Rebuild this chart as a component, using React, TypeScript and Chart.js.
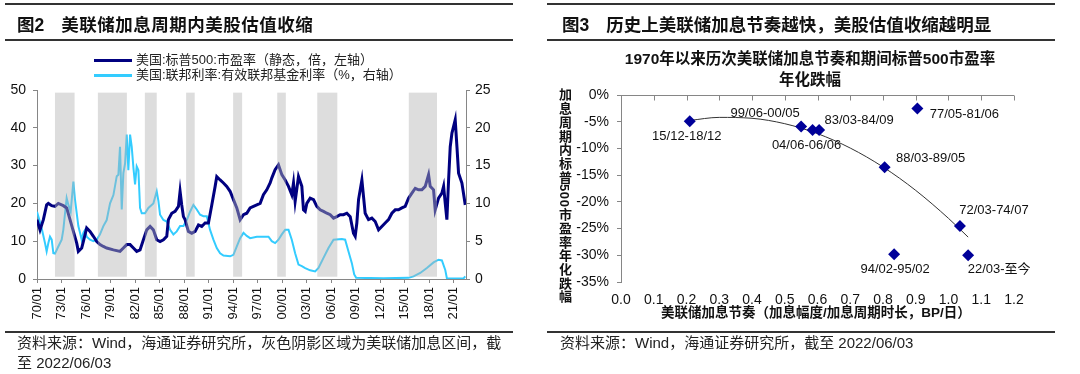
import React, { useEffect, useRef } from 'react';
import { Chart, registerables } from 'chart.js';
Chart.register(...registerables);

// ---------- Left chart (图2) data ----------
const peYears = [
  1970.0, 1970.37, 1970.78, 1971.18, 1971.39, 1971.8, 1972.2, 1972.61, 1973.22, 1973.63,
  1974.04, 1974.45, 1974.86, 1975.06, 1975.47, 1975.67, 1976.08, 1976.49, 1976.9, 1977.31,
  1977.71, 1978.12, 1978.53, 1979.35, 1980.16, 1980.57, 1980.98, 1981.39, 1981.8, 1982.2,
  1982.61, 1983.02, 1983.43, 1983.84, 1984.24, 1984.65, 1985.06, 1985.47, 1985.88, 1986.08,
  1986.49, 1986.9, 1987.31, 1987.51, 1987.71, 1987.92, 1988.12, 1988.53, 1988.94, 1989.35,
  1989.76, 1990.16, 1990.57, 1990.98, 1991.39, 1991.8, 1992.0, 1992.41, 1992.82, 1993.22,
  1993.63, 1994.04, 1994.45, 1994.86, 1995.27, 1995.67, 1996.08, 1996.49, 1996.9, 1997.31,
  1997.71, 1998.12, 1998.53, 1998.73, 1999.14, 1999.55, 1999.96, 2000.37, 2000.78, 2001.18,
  2001.39, 2001.59, 2002.0, 2002.41, 2002.61, 2002.82, 2003.02, 2003.43, 2003.84, 2004.24,
  2004.65, 2005.06, 2005.47, 2005.88, 2006.29, 2006.69, 2007.1, 2007.51, 2007.92, 2008.33,
  2008.73, 2008.94, 2009.14, 2009.35, 2009.76, 2009.96, 2010.16, 2010.57, 2010.98, 2011.39,
  2011.8, 2012.2, 2012.61, 2013.02, 2013.43, 2013.84, 2014.24, 2014.65, 2015.06, 2015.47,
  2015.88, 2016.29, 2016.69, 2017.1, 2017.51, 2017.92, 2018.12, 2018.53, 2018.73, 2019.14,
  2019.55, 2019.76, 2019.96, 2020.16, 2020.37, 2020.57, 2020.78, 2021.18, 2021.39, 2021.59,
  2022.0, 2022.41,
];
const peValues = [
  15.7, 13.0, 15.7, 19.6, 20.0, 19.4, 19.2, 20.0, 19.4, 18.8,
  15.7, 12.6, 9.5, 7.3, 8.2, 9.9, 13.5, 12.6, 11.3, 9.9,
  9.1, 8.6, 8.2, 7.7, 7.3, 8.2, 9.1, 9.1, 8.2, 7.3,
  7.7, 10.4, 13.0, 13.9, 13.0, 10.4, 9.9, 10.4, 11.3, 15.7,
  17.4, 17.9, 19.2, 23.2, 19.6, 16.5, 15.7, 12.6, 12.1, 12.6,
  14.3, 13.9, 14.8, 14.8, 19.6, 24.5, 27.1, 26.2, 25.4, 24.5,
  23.2, 21.0, 18.8, 15.7, 17.0, 17.4, 18.8, 19.2, 19.6, 20.0,
  22.3, 23.6, 25.4, 26.7, 28.9, 30.2, 27.6, 26.2, 24.5, 22.3,
  25.4, 20.5, 27.1, 24.5, 18.3, 17.9, 20.0, 21.4, 21.0, 19.2,
  18.3, 17.9, 17.4, 17.0, 16.1, 16.5, 17.0, 17.0, 17.4, 16.5,
  12.1, 11.3, 14.8, 21.0, 26.2, 21.8, 17.4, 15.7, 16.1, 15.2,
  13.0, 13.9, 14.8, 15.7, 17.4, 18.3, 18.3, 18.8, 19.2, 21.4,
  22.7, 24.0, 23.6, 23.6, 24.5, 27.6, 24.5, 23.6, 18.3, 21.4,
  22.7, 24.5, 20.0, 15.7, 26.2, 35.0, 38.6, 42.1, 35.0, 28.0,
  25.4, 19.6,
];
const fedYears = [
  1970.0, 1970.29, 1970.57, 1970.98, 1971.18, 1971.39, 1971.59, 1971.8, 1972.0, 1972.2,
  1972.61, 1973.02, 1973.22, 1973.43, 1973.63, 1973.84, 1974.12, 1974.45, 1974.65, 1975.06,
  1975.27, 1975.47, 1975.67, 1975.88, 1976.08, 1976.49, 1976.9, 1977.31, 1977.71, 1978.12,
  1978.53, 1978.94, 1979.35, 1979.76, 1979.96, 1980.16, 1980.37, 1980.57, 1980.78, 1980.98,
  1981.18, 1981.39, 1981.59, 1981.8, 1982.0, 1982.2, 1982.41, 1982.61, 1982.82, 1983.22,
  1983.63, 1984.24, 1984.65, 1984.86, 1985.06, 1985.47, 1985.88, 1986.29, 1986.69, 1987.1,
  1987.51, 1987.92, 1988.33, 1988.73, 1989.14, 1989.55, 1989.96, 1990.37, 1990.78, 1991.18,
  1991.59, 1992.0, 1992.41, 1992.82, 1993.63, 1994.04, 1994.45, 1994.86, 1995.27, 1995.67,
  1996.08, 1996.9, 1997.71, 1998.33, 1998.73, 1999.14, 1999.55, 1999.96, 2000.37, 2000.78,
  2001.18, 2001.59, 2002.0, 2002.41, 2002.82, 2003.43, 2004.04, 2004.45, 2005.06, 2005.67,
  2006.29, 2007.31, 2007.71, 2008.12, 2008.53, 2008.82, 2009.06, 2012.41, 2015.47, 2016.08,
  2016.9, 2017.71, 2018.53, 2019.14, 2019.55, 2019.96, 2020.16, 2022.2, 2022.41,
];
const fedValues = [
  8.9, 7.8, 6.7, 4.75, 3.65, 4.75, 5.6, 5.2, 3.4, 3.35,
  4.3, 5.2, 6.5, 8.7, 10.7, 9.8, 8.9, 12.9, 10.5, 7.0,
  6.1, 5.2, 6.1, 6.5, 5.6, 5.2, 5.0, 5.2, 5.9, 7.0,
  7.8, 10.0, 11.1, 13.6, 13.8, 17.5, 9.2, 14.0, 15.3, 19.1,
  14.4, 19.1, 17.5, 14.7, 12.5, 14.9, 14.4, 9.4, 8.7, 8.7,
  9.4, 10.0, 11.6, 10.3, 8.5, 7.8, 7.6, 6.5, 5.9, 6.3,
  7.0, 7.0, 7.8, 8.9, 9.8, 9.2, 8.5, 8.3, 8.3, 6.5,
  5.2, 4.1, 3.4, 3.1, 3.0, 3.2, 4.3, 5.4, 6.1, 5.7,
  5.4, 5.6, 5.6, 5.6, 5.0, 4.75, 5.2, 5.9, 6.5, 6.5,
  5.2, 3.4, 1.9, 1.7, 1.45, 1.15, 1.0, 1.45, 2.8, 4.1,
  5.2, 5.3, 5.2, 3.65, 2.1, 0.6, 0.15, 0.1, 0.15, 0.35,
  0.8, 1.45, 2.2, 2.55, 2.45, 1.2, 0.1, 0.08, 0.35,
];
const hikeStarts = [1972.2, 1977.45, 1983.2, 1988.25, 1994.0, 1999.4, 2004.3, 2015.5];
const hikeEnds = [1974.6, 1981.0, 1984.65, 1989.3, 1995.1, 2000.45, 2006.75, 2018.95];
const xTickYears = [1970, 1973, 1976, 1979, 1982, 1985, 1988, 1991, 1994, 1997, 2000, 2003, 2006, 2009, 2012, 2015, 2018, 2021];
const xTickLabels = ['70/01', '73/01', '76/01', '79/01', '82/01', '85/01', '88/01', '91/01', '94/01', '97/01', '00/01', '03/01', '06/01', '09/01', '12/01', '15/01', '18/01', '21/01'];

// ---------- Right chart (图3) data ----------
const periodLabels = ['15/12-18/12', '99/06-00/05', '04/06-06/06', '83/03-84/09', '77/05-81/06', '88/03-89/05', '72/03-74/07', '94/02-95/02', '22/03-至今'];
const hikePace = [0.21, 0.55, 0.585, 0.605, 0.905, 0.805, 1.035, 0.834, 1.06];
const peAnnualChange = [-4.9, -5.9, -6.55, -6.55, -2.55, -13.5, -24.5, -29.8, -30.0];
const trendX = [0.21, 0.3, 0.4, 0.5, 0.6, 0.7, 0.8, 0.9, 1.0, 1.06];
const trendY = [-4.76, -4.19, -4.36, -5.37, -7.23, -9.93, -13.47, -17.86, -23.09, -26.6];
const labelOffsets = [[-3, 15], [-36, -13], [-6, 15], [40, -10], [47, 6], [46, -9], [34, -15], [1, 15], [31, 14]];

const FONT = "'Liberation Sans', 'Noto Sans CJK SC', sans-serif";
const AXIS = '#868686';
const NAVY = '#000080';
const CYAN = '#33CCFF';

const bandsPlugin = {
  id: 'bands',
  afterDatasetsDraw(chart: any) {
    const { ctx, scales } = chart;
    const x = scales.x, y = scales.y;
    const yTop = y.getPixelForValue(49.3);
    const yBot = y.getPixelForValue(0.6);
    ctx.save();
    ctx.fillStyle = 'rgba(180,180,180,0.45)';
    hikeStarts.forEach((s, i) => {
      const x0 = x.getPixelForValue(s);
      const x1 = x.getPixelForValue(hikeEnds[i]);
      ctx.fillRect(x0, yTop, x1 - x0, yBot - yTop);
    });
    ctx.restore();
  },
};

const topAxisPlugin = {
  id: 'topAxis',
  beforeDatasetsDraw(chart: any) {
    const { ctx, chartArea, scales } = chart;
    const x = scales.x, y = scales.y;
    const y0 = Math.round(y.getPixelForValue(0)) + 0.5;
    ctx.save();
    ctx.strokeStyle = AXIS;
    ctx.lineWidth = 1;
    ctx.beginPath();
    ctx.moveTo(chartArea.left, y0);
    ctx.lineTo(chartArea.right, y0);
    x.ticks.forEach((t: any) => {
      const px = Math.round(x.getPixelForValue(t.value)) + 0.5;
      ctx.moveTo(px, y0);
      ctx.lineTo(px, y0 + 5);
    });
    ctx.stroke();
    ctx.restore();
  },
};

const pointLabelsPlugin = {
  id: 'pointLabels',
  afterDatasetsDraw(chart: any) {
    const { ctx } = chart;
    const meta = chart.getDatasetMeta(0);
    ctx.save();
    ctx.font = `13px ${FONT}`;
    ctx.fillStyle = '#111';
    ctx.textAlign = 'center';
    ctx.textBaseline = 'middle';
    meta.data.forEach((el: any, i: number) => {
      const [dx, dy] = labelOffsets[i];
      ctx.fillText(periodLabels[i], el.x + dx, el.y + dy);
    });
    ctx.restore();
  },
};

const rule = (left: number, top: number, width: number, height: number, color = '#333') => (
  <div style={{ position: 'absolute', left, top, width, height, background: color }} />
);

export default function App() {
  const leftRef = useRef<HTMLCanvasElement>(null);
  const rightRef = useRef<HTMLCanvasElement>(null);

  useEffect(() => {
    Chart.defaults.font.family = FONT;
    Chart.defaults.color = '#111';

    const left = new Chart(leftRef.current as HTMLCanvasElement, {
      type: 'line',
      data: {
        datasets: [
          {
            label: '美国:联邦利率:有效联邦基金利率（%，右轴）',
            data: fedYears.map((x, i) => ({ x, y: fedValues[i] })),
            yAxisID: 'y1',
            borderColor: CYAN,
            borderWidth: 2,
            pointRadius: 0,
            tension: 0,
            order: 2,
          },
          {
            label: '美国:标普500:市盈率（静态，倍，左轴）',
            data: peYears.map((x, i) => ({ x, y: peValues[i] })),
            yAxisID: 'y',
            borderColor: NAVY,
            borderWidth: 3,
            pointRadius: 0,
            tension: 0,
            order: 1,
          },
        ],
      },
      options: {
        responsive: false,
        animation: false,
        events: [],
        layout: { padding: { top: 90, left: 0, right: 0, bottom: 0 } },
        plugins: { legend: { display: false }, tooltip: { enabled: false } },
        scales: {
          x: {
            type: 'linear',
            min: 1970,
            max: 2022.5,
            afterBuildTicks: (s: any) => { s.ticks = xTickYears.map((v) => ({ value: v })); },
            afterFit: (s: any) => { s.height = 95; },
            ticks: {
              autoSkip: false,
              minRotation: 90,
              maxRotation: 90,
              padding: 4,
              font: { size: 13 },
              color: '#111',
              callback: (_v: any, i: number) => xTickLabels[i],
            },
            grid: { drawOnChartArea: false, tickLength: 4, color: AXIS },
            border: { color: AXIS },
          },
          y: {
            position: 'left',
            min: 0,
            max: 50,
            afterFit: (s: any) => { s.width = 37; },
            ticks: { stepSize: 10, padding: 7, font: { size: 14 }, color: '#111' },
            grid: { drawOnChartArea: false, tickLength: 4, color: AXIS },
            border: { color: AXIS },
          },
          y1: {
            position: 'right',
            min: 0,
            max: 25,
            afterFit: (s: any) => { s.width = 74; },
            ticks: { stepSize: 5, padding: 5, font: { size: 14 }, color: '#111' },
            grid: { drawOnChartArea: false, tickLength: 4, color: AXIS },
            border: { color: AXIS },
          },
        },
      } as any,
      plugins: [bandsPlugin],
    });

    const right = new Chart(rightRef.current as HTMLCanvasElement, {
      type: 'scatter',
      data: {
        datasets: [
          {
            label: 'points',
            data: hikePace.map((x, i) => ({ x, y: peAnnualChange[i] })),
            pointStyle: 'rectRot',
            pointRadius: 6,
            backgroundColor: '#000099',
            borderColor: '#000099',
            borderWidth: 0,
            order: 1,
          },
          {
            label: 'trend',
            data: trendX.map((x, i) => ({ x, y: trendY[i] })),
            showLine: true,
            borderColor: '#333',
            borderWidth: 1,
            pointRadius: 0,
            cubicInterpolationMode: 'monotone',
            order: 2,
          },
        ],
      },
      options: {
        responsive: false,
        animation: false,
        events: [],
        layout: { padding: { top: 95, left: 0, right: 66, bottom: 0 } },
        plugins: { legend: { display: false }, tooltip: { enabled: false } },
        scales: {
          x: {
            type: 'linear',
            min: 0,
            max: 1.2,
            afterFit: (s: any) => { s.height = 92; },
            ticks: {
              stepSize: 0.1,
              autoSkip: false,
              maxRotation: 0,
              padding: 10,
              font: { size: 14 },
              color: '#111',
              callback: (v: any) => Number(v).toFixed(1),
            },
            grid: { display: false, drawTicks: false },
            border: { display: false },
          },
          y: {
            min: -35,
            max: 0,
            afterFit: (s: any) => { s.width = 81; },
            ticks: {
              stepSize: 5,
              padding: 8,
              font: { size: 14 },
              color: '#111',
              callback: (v: any) => `${Math.round(Number(v)) || 0}%`,
            },
            grid: { drawOnChartArea: false, tickLength: 4, color: AXIS },
            border: { color: AXIS },
          },
        },
      } as any,
      plugins: [topAxisPlugin, pointLabelsPlugin],
    });

    return () => {
      left.destroy();
      right.destroy();
    };
  }, []);

  const base: React.CSSProperties = { position: 'absolute', fontFamily: FONT, color: '#111', whiteSpace: 'nowrap' };

  return (
    <div style={{ position: 'absolute', left: 0, top: 0, width: 1080, height: 374, background: '#fff', overflow: 'hidden' }}>
      <canvas ref={leftRef} width={540} height={374} style={{ position: 'absolute', left: 0, top: 0, width: 540, height: 374 }} />
      <canvas ref={rightRef} width={540} height={374} style={{ position: 'absolute', left: 540, top: 0, width: 540, height: 374 }} />

      {/* Left panel */}
      {rule(5, 3, 508, 2)}
      <div style={{ ...base, left: 17, top: 14, fontSize: 17.5, lineHeight: '22px', fontWeight: 700 }}>
        <span>图2</span><span style={{ marginLeft: 17, letterSpacing: '0.5px' }}>美联储加息周期内美股估值收缩</span>
      </div>
      {rule(5, 39, 508, 1.5)}
      <div style={{ position: 'absolute', left: 94, top: 59, width: 38, height: 2.5, background: NAVY }} />
      <div style={{ ...base, left: 136, top: 51, fontSize: 13, lineHeight: '18px', color: '#222' }}>美国:标普500:市盈率（静态，倍，左轴）</div>
      <div style={{ position: 'absolute', left: 94, top: 74, width: 38, height: 2.5, background: CYAN }} />
      <div style={{ ...base, left: 136, top: 66, fontSize: 13, lineHeight: '18px', color: '#222' }}>美国:联邦利率:有效联邦基金利率（%，右轴）</div>
      {rule(5, 331, 508, 2)}
      <div style={{ ...base, left: 17, top: 333, fontSize: 15, lineHeight: '20px', color: '#222' }}>
        资料来源：Wind，海通证券研究所，灰色阴影区域为美联储加息区间，截<br />至 2022/06/03
      </div>

      {/* Right panel */}
      {rule(547, 3, 508, 2)}
      <div style={{ ...base, left: 562, top: 14, fontSize: 17.5, lineHeight: '22px', fontWeight: 700 }}>
        <span>图3</span><span style={{ marginLeft: 17 }}>历史上美联储加息节奏越快，美股估值收缩越明显</span>
      </div>
      {rule(547, 39, 508, 1.5)}
      <div style={{ ...base, left: 810, top: 48, transform: 'translateX(-50%)', fontSize: 15.5, lineHeight: '21px', fontWeight: 700, textAlign: 'center' }}>
        1970年以来历次美联储加息节奏和期间标普500市盈率<br />年化跌幅
      </div>
      <div style={{ ...base, left: 557, top: 88, fontSize: 13, fontWeight: 700, writingMode: 'vertical-rl', textOrientation: 'mixed', letterSpacing: '0.7px', lineHeight: '14px' }}>
        加息周期内标普500市盈率年化跌幅
      </div>
      <div style={{ ...base, left: 816, top: 303, transform: 'translateX(-50%)', fontSize: 13.5, lineHeight: '20px', fontWeight: 700 }}>
        美联储加息节奏（加息幅度/加息周期时长，BP/日）
      </div>
      {rule(547, 331, 508, 2)}
      <div style={{ ...base, left: 560, top: 333, fontSize: 15, lineHeight: '20px', color: '#222' }}>
        资料来源：Wind，海通证券研究所，截至 2022/06/03
      </div>
    </div>
  );
}
